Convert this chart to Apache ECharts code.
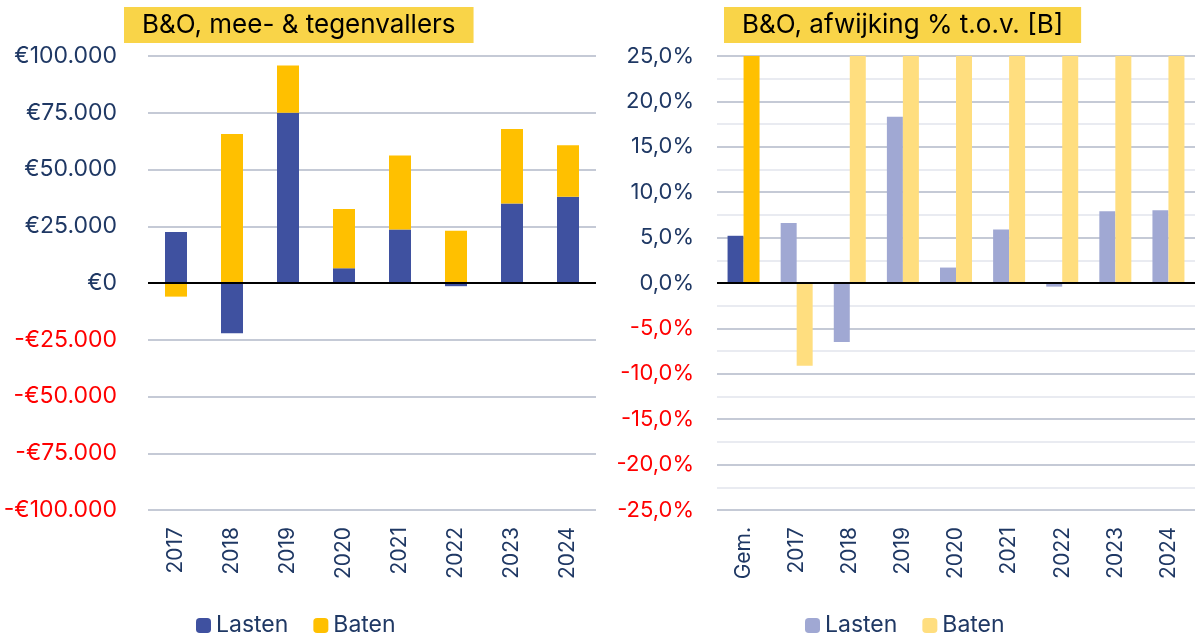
<!DOCTYPE html>
<html>
<head>
<meta charset="utf-8">
<script src="https://cdn.jsdelivr.net/npm/echarts@6/dist/echarts.min.js"></script>
<style>
  html, body { margin: 0; padding: 0; background: #fff; }
  #chart { width: 1195px; height: 637px; }
</style>
</head>
<body>
<div id="chart"></div>
<script>
// linker grafiek: mee- en tegenvallers in euro
var years = ['2017', '2018', '2019', '2020', '2021', '2022', '2023', '2024'];
var lastenEuro = [22500, -22100, 75000, 6500, 23600, -1400, 35000, 38000];
var batenEuro = [-6000, 65600, 20800, 26100, 32600, 23000, 32800, 22700];

// rechter grafiek: afwijking in procenten
var pctCats = ['Gem.', '2017', '2018', '2019', '2020', '2021', '2022', '2023', '2024'];
var lastenPct = [5.2, 6.6, -6.5, 18.3, 1.7, 5.9, -0.4, 7.9, 8.0];
var batenPct = [40, -9.1, 60, 35, 45, 50, 40, 45, 35];

var navy = '#1F3864';
var red = '#FF0000';
var font = 'Inter';

function euro(v) {
    var s = Math.abs(v).toString().replace(/\B(?=(\d{3})+(?!\d))/g, '.');
    return (v < 0 ? '-' : '') + '€' + s;
}

function pct(v) {
    return v.toFixed(1).replace('.', ',') + '%';
}

function labelColor(v) {
    return Number(v) < 0 ? red : navy;
}

var zeroLine = {
    silent: true,
    symbol: 'none',
    label: {show: false},
    lineStyle: {color: '#000', width: 2, type: 'solid'},
    data: [{yAxis: 0}]
};

var chart = echarts.init(document.getElementById('chart'));

chart.setOption({
    animation: false,
    textStyle: {fontFamily: font},
    title: [
        {
            text: 'B&O, mee- & tegenvallers',
            left: 124, top: 7,
            backgroundColor: '#F9D448',
            padding: [5, 18, 5, 18],
            textStyle: {fontSize: 26, fontWeight: 'normal', color: '#000', fontFamily: font}
        },
        {
            text: 'B&O, afwijking % t.o.v. [B]',
            left: 724, top: 7,
            backgroundColor: '#F9D448',
            padding: [5, 18, 5, 18],
            textStyle: {fontSize: 26, fontWeight: 'normal', color: '#000', fontFamily: font}
        }
    ],
    legend: [
        {
            data: ['Lasten', 'Baten'],
            left: 191, top: 609,
            itemWidth: 15, itemHeight: 15, itemGap: 25,
            textStyle: {fontSize: 23, color: navy, fontFamily: font}
        },
        {
            data: ['Lasten %', 'Baten %'],
            left: 800, top: 609,
            itemWidth: 15, itemHeight: 15, itemGap: 25,
            formatter: function (name) { return name.replace(' %', ''); },
            textStyle: {fontSize: 23, color: navy, fontFamily: font}
        }
    ],
    grid: [
        {left: 148, width: 448, top: 56, bottom: 127},
        {left: 717, width: 485, top: 56, bottom: 127}
    ],
    xAxis: [
        {
            type: 'category', gridIndex: 0, data: years,
            axisLine: {show: false}, axisTick: {show: false},
            axisLabel: {rotate: 90, margin: 17, fontSize: 21, color: navy}
        },
        {
            type: 'category', gridIndex: 1, data: pctCats,
            axisLine: {show: false}, axisTick: {show: false},
            axisLabel: {rotate: 90, margin: 17, fontSize: 21, color: navy}
        }
    ],
    yAxis: [
        {
            type: 'value', gridIndex: 0, min: -100000, max: 100000, interval: 25000,
            axisLabel: {formatter: euro, color: labelColor, fontSize: 23, margin: 31},
            splitLine: {lineStyle: {color: '#C5CAD6', width: 2}}
        },
        {
            type: 'value', gridIndex: 1, min: -25, max: 25, interval: 5,
            axisLabel: {formatter: pct, color: labelColor, fontSize: 22, margin: 23},
            splitLine: {lineStyle: {color: '#C5CAD6', width: 2}},
            minorTick: {show: false, splitNumber: 2},
            minorSplitLine: {show: true, lineStyle: {color: '#E9EBF1', width: 2}}
        }
    ],
    series: [
        {
            name: 'Lasten', type: 'bar', stack: 'euro', xAxisIndex: 0, yAxisIndex: 0,
            barWidth: 22, data: lastenEuro, itemStyle: {color: '#3F51A0'},
            markLine: zeroLine
        },
        {
            name: 'Baten', type: 'bar', stack: 'euro', xAxisIndex: 0, yAxisIndex: 0,
            barWidth: 22, data: batenEuro, itemStyle: {color: '#FFC000'}
        },
        {
            name: 'Lasten %', type: 'bar', xAxisIndex: 1, yAxisIndex: 1,
            barWidth: 16, barGap: '0%',
            data: lastenPct.map(function (v, i) {
                return i === 0 ? {value: v, itemStyle: {color: '#3F51A0'}} : v;
            }),
            itemStyle: {color: '#A0A8D3'},
            markLine: zeroLine
        },
        {
            name: 'Baten %', type: 'bar', xAxisIndex: 1, yAxisIndex: 1,
            barWidth: 16, barGap: '0%', clip: true,
            data: batenPct.map(function (v, i) {
                return i === 0 ? {value: v, itemStyle: {color: '#FFC000'}} : v;
            }),
            itemStyle: {color: '#FFDE7F'}
        }
    ]
});
</script>
</body>
</html>
